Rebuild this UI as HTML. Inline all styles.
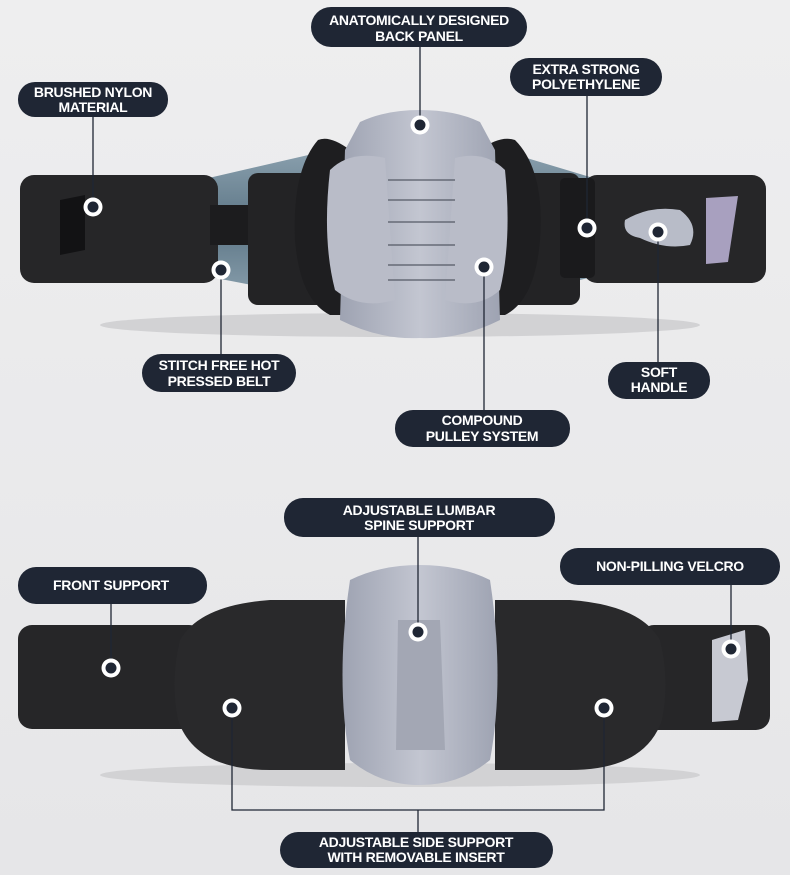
<!DOCTYPE html>
<html><head><meta charset="utf-8"><style>
html,body{margin:0;padding:0;background:#ebebec;}
svg{display:block}
text{font-family:"Liberation Sans",sans-serif;font-weight:bold;font-size:14px;fill:#fff;text-anchor:middle;letter-spacing:-0.3px}
</style></head><body>
<svg width="790" height="875" viewBox="0 0 790 875">
<defs>
<linearGradient id="bg" x1="0" y1="0" x2="0" y2="1"><stop offset="0" stop-color="#eeeeef"/><stop offset="1" stop-color="#e6e6e8"/></linearGradient>
<linearGradient id="gr" x1="0" y1="0" x2="1" y2="0"><stop offset="0" stop-color="#9ea3b2"/><stop offset=".5" stop-color="#c3c6d1"/><stop offset="1" stop-color="#9ea3b2"/></linearGradient>
<linearGradient id="el" x1="0" y1="0" x2="0" y2="1"><stop offset="0" stop-color="#8aa0ae"/><stop offset=".5" stop-color="#5d7686"/><stop offset="1" stop-color="#8aa0ae"/></linearGradient>
<g id="dot"><circle r="9.5" fill="#fff"/><circle r="5.5" fill="#1f2634"/></g>
</defs>
<rect width="790" height="875" fill="url(#bg)"/>
<ellipse cx="400" cy="325" rx="300" ry="12" fill="#d2d2d4"/>
<ellipse cx="400" cy="775" rx="300" ry="12" fill="#d2d2d4"/>
<!-- belt 1 -->
<path d="M200 180 L330 150 L330 300 L200 275 Z" fill="url(#el)"/>
<path d="M500 150 L600 180 L600 275 L500 300 Z" fill="url(#el)"/>
<rect x="20" y="175" width="198" height="108" rx="14" fill="#262628"/>
<rect x="210" y="205" width="380" height="40" fill="#1c1c1e"/>
<rect x="248" y="173" width="95" height="132" rx="10" fill="#232325"/>
<rect x="470" y="173" width="110" height="132" rx="10" fill="#232325"/>
<path d="M318 140 Q330 135 350 150 L480 150 Q500 135 515 140 Q545 170 540 240 Q535 300 505 315 L330 315 Q300 300 295 240 Q292 170 318 140Z" fill="#1e1e20"/>
<path d="M360 122 Q385 110 420 110 Q455 110 480 122 L495 150 L500 320 Q460 340 420 338 Q380 340 340 320 L345 150Z" fill="url(#gr)"/>
<path d="M330 170 Q350 150 385 158 L395 300 Q360 310 335 290 Q322 240 330 170Z" fill="#b9bcc8"/>
<path d="M505 170 Q485 150 455 158 L445 300 Q478 310 500 290 Q512 240 505 170Z" fill="#b9bcc8"/>
<g stroke="#555a66" stroke-width="1.2"><line x1="388" y1="180" x2="455" y2="180"/><line x1="388" y1="200" x2="455" y2="200"/><line x1="388" y1="222" x2="455" y2="222"/><line x1="388" y1="245" x2="455" y2="245"/><line x1="388" y1="265" x2="455" y2="265"/><line x1="388" y1="280" x2="455" y2="280"/></g>
<rect x="583" y="175" width="183" height="108" rx="14" fill="#262628"/>
<rect x="560" y="178" width="35" height="100" rx="5" fill="#1a1a1c"/>
<path d="M625 220 Q650 205 680 210 Q700 225 690 245 Q665 250 640 238 Q622 235 625 220Z" fill="#b8bcc8"/>
<path d="M706 198 L738 196 L728 262 L706 264Z" fill="#a8a0bf"/>
<path d="M60 200 L85 195 L85 250 L60 255Z" fill="#121214"/>
<!-- belt 2 -->
<path d="M180 630 L345 600 L345 760 L180 725 Z" fill="url(#el)"/>
<path d="M495 600 L660 630 L660 725 L495 760 Z" fill="url(#el)"/>
<rect x="18" y="625" width="185" height="104" rx="14" fill="#262628"/>
<rect x="640" y="625" width="130" height="105" rx="14" fill="#262628"/>
<path d="M180 640 Q200 605 270 600 L345 600 L345 770 L270 770 Q195 770 178 720 Q170 680 180 640Z" fill="#29292b"/>
<path d="M660 640 Q640 605 570 600 L495 600 L495 770 L570 770 Q645 770 662 720 Q670 680 660 640Z" fill="#29292b"/>
<path d="M350 580 Q380 565 420 565 Q460 565 490 580 Q505 680 490 760 Q460 785 420 785 Q380 785 350 760 Q335 680 350 580Z" fill="url(#gr)"/>
<path d="M398 620 L440 620 L445 750 L396 750Z" fill="#a3a7b4"/>
<path d="M712 640 L745 630 L748 680 L738 720 L712 722Z" fill="#c7c9d2"/>
<!-- lines -->
<g stroke="#1f2634" stroke-width="1.3" fill="none">
<line x1="420" y1="47" x2="420" y2="125"/>
<line x1="93" y1="117" x2="93" y2="207"/>
<line x1="587" y1="96" x2="587" y2="228"/>
<line x1="221" y1="270" x2="221" y2="354"/>
<line x1="658" y1="232" x2="658" y2="362"/>
<line x1="484" y1="267" x2="484" y2="410"/>
<line x1="418" y1="537" x2="418" y2="632"/>
<line x1="731" y1="585" x2="731" y2="649"/>
<line x1="111" y1="604" x2="111" y2="668"/>
<polyline points="232,708 232,810 604,810 604,708"/>
<line x1="418" y1="810" x2="418" y2="832"/>
</g>
<use href="#dot" x="420" y="125"/><use href="#dot" x="93" y="207"/><use href="#dot" x="587" y="228"/>
<use href="#dot" x="221" y="270"/><use href="#dot" x="658" y="232"/><use href="#dot" x="484" y="267"/>
<use href="#dot" x="418" y="632"/><use href="#dot" x="731" y="649"/><use href="#dot" x="111" y="668"/>
<use href="#dot" x="232" y="708"/><use href="#dot" x="604" y="708"/>
<!-- labels -->
<g fill="#1f2634">
<rect x="311" y="7" width="216" height="40" rx="20"/>
<rect x="18" y="82" width="150" height="35" rx="17"/>
<rect x="510" y="58" width="152" height="38" rx="19"/>
<rect x="142" y="354" width="154" height="38" rx="19"/>
<rect x="608" y="362" width="102" height="37" rx="18"/>
<rect x="395" y="410" width="175" height="37" rx="18"/>
<rect x="284" y="498" width="271" height="39" rx="19"/>
<rect x="560" y="548" width="220" height="37" rx="18"/>
<rect x="18" y="567" width="189" height="37" rx="18"/>
<rect x="280" y="832" width="273" height="36" rx="18"/>
</g>
<text x="419" y="25">ANATOMICALLY DESIGNED</text><text x="419" y="41">BACK PANEL</text>
<text x="93" y="97">BRUSHED NYLON</text><text x="93" y="112">MATERIAL</text>
<text x="586" y="74">EXTRA STRONG</text><text x="586" y="89">POLYETHYLENE</text>
<text x="219" y="370">STITCH FREE HOT</text><text x="219" y="386">PRESSED BELT</text>
<text x="659" y="377">SOFT</text><text x="659" y="392">HANDLE</text>
<text x="482" y="425">COMPOUND</text><text x="482" y="441">PULLEY SYSTEM</text>
<text x="419" y="515">ADJUSTABLE LUMBAR</text><text x="419" y="530">SPINE SUPPORT</text>
<text x="670" y="571">NON-PILLING VELCRO</text>
<text x="111" y="590">FRONT SUPPORT</text>
<text x="416" y="847">ADJUSTABLE SIDE SUPPORT</text><text x="416" y="862">WITH REMOVABLE INSERT</text>
</svg>
</body></html>
